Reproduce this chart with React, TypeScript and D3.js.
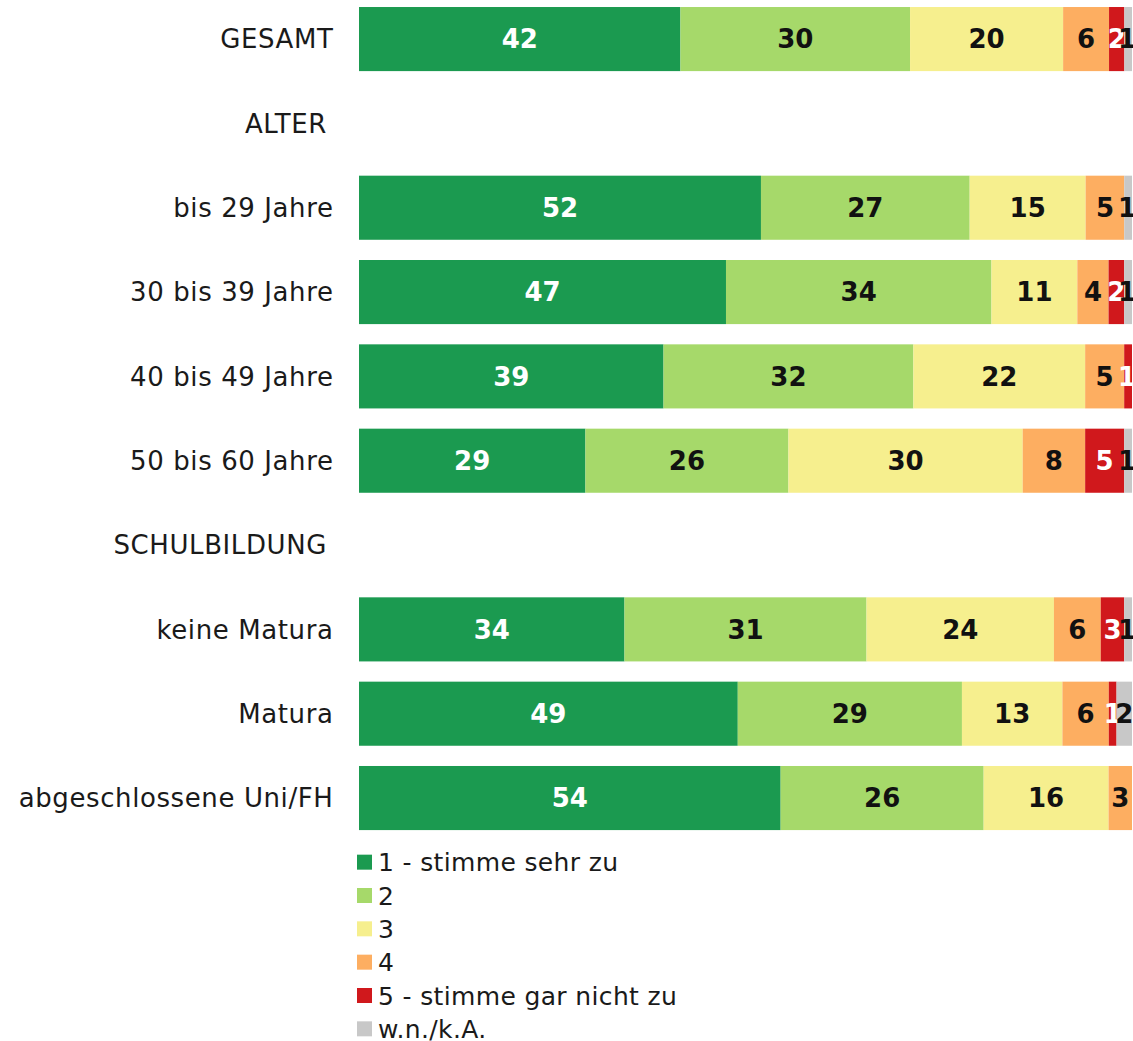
import React from "react";
import * as d3 from "d3";

const categories = [
  "GESAMT",
  "ALTER",
  "bis 29 Jahre",
  "30 bis 39 Jahre",
  "40 bis 49 Jahre",
  "50 bis 60 Jahre",
  "SCHULBILDUNG",
  "keine Matura",
  "Matura",
  "abgeschlossene Uni/FH",
];
const headerRows = ["ALTER", "SCHULBILDUNG"];

const seriesNames = ["1 - stimme sehr zu", "2", "3", "4", "5 - stimme gar nicht zu", "w.n./k.A."];
const seriesColors = ["#1b9a50", "#a6d96a", "#f6ef8e", "#fdae61", "#d0181c", "#c8c8c8"];
const labelColors = ["#ffffff", "#111111", "#111111", "#111111", "#ffffff", "#111111"];

// one array per answer, aligned with categories (null = header row)
const stronglyAgree = [42, null, 52, 47, 39, 29, null, 34, 49, 54];
const agree = [30, null, 27, 34, 32, 26, null, 31, 29, 26];
const neutral = [20, null, 15, 11, 22, 30, null, 24, 13, 16];
const disagree = [6, null, 5, 4, 5, 8, null, 6, 6, 3];
const stronglyDisagree = [2, null, 0, 2, 1, 5, null, 3, 1, 0];
const noAnswer = [1, null, 1, 1, 0, 1, null, 1, 2, 0];

const series = [stronglyAgree, agree, neutral, disagree, stronglyDisagree, noAnswer];

const width = 1133;
const height = 1041;
const barLeft = 359;
const barRight = 1132;
const font = "'DejaVu Sans', sans-serif";

export default function App() {
  const y = d3
    .scaleBand<string>()
    .domain(categories)
    .range([-3.1, 840.2])
    .paddingInner(0.24)
    .paddingOuter(0.12);

  const rows = categories.map((cat, i) => {
    if (headerRows.includes(cat)) return { cat, segs: [] as any[] };
    const vals = series.map((s) => s[i] as number);
    const total = d3.sum(vals);
    const x = d3.scaleLinear().domain([0, total]).range([barLeft, barRight]);
    let acc = 0;
    const segs = vals.map((v, k) => {
      const x0 = x(acc);
      acc += v;
      const x1 = x(acc);
      return { v, k, x0, x1 };
    });
    return { cat, segs };
  });

  const legendY = d3.scaleBand<string>().domain(seriesNames).range([845.5, 1045.5]);

  return (
    <svg
      width={width}
      height={height}
      style={{ position: "absolute", left: 0, top: 0, background: "#fff" }}
      fontFamily={font}
    >
      {rows.map(({ cat, segs }) => {
        const y0 = y(cat) as number;
        const bh = y.bandwidth();
        const cy = y0 + bh / 2;
        const isHeader = headerRows.includes(cat);
        return (
          <g key={cat}>
            <text
              x={isHeader ? 327 : 333.5}
              y={cy}
              dy="0.36em"
              textAnchor="end"
              fontSize={26}
              letterSpacing={0.6}
              fill="#1a1a1a"
            >
              {cat}
            </text>
            {segs.map((s) =>
              s.v > 0 ? (
                <rect key={"r" + s.k} x={s.x0} y={y0} width={s.x1 - s.x0} height={bh} fill={seriesColors[s.k]} />
              ) : null
            )}
            {segs.map((s) =>
              s.v > 0 ? (
                <text
                  key={"t" + s.k}
                  x={Math.min((s.x0 + s.x1) / 2, width - 6)}
                  y={cy}
                  dy="0.36em"
                  textAnchor="middle"
                  fontSize={26}
                  fontWeight="bold"
                  fill={labelColors[s.k]}
                >
                  {s.v}
                </text>
              ) : null
            )}
          </g>
        );
      })}
      {seriesNames.map((name, k) => {
        const ly = (legendY(name) as number) + legendY.bandwidth() / 2;
        return (
          <g key={name}>
            <rect x={357} y={ly - 7.5} width={15} height={15} fill={seriesColors[k]} />
            <text x={378} y={ly} dy="0.36em" fontSize={25} letterSpacing={0.35} fill="#1a1a1a">
              {name}
            </text>
          </g>
        );
      })}
    </svg>
  );
}
